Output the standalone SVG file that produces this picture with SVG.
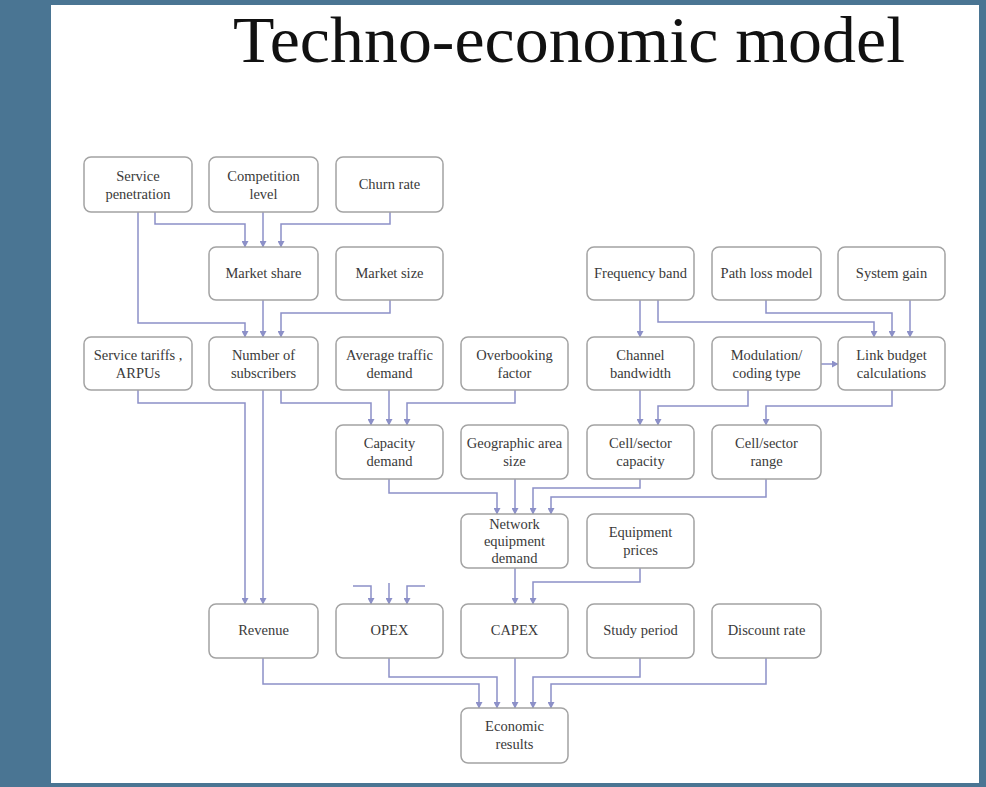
<svg xmlns="http://www.w3.org/2000/svg" width="986" height="787" viewBox="0 0 986 787">
<defs>
<style>
.bg{fill:#4a7593}
.panel{fill:#ffffff}
.title{font-family:"Liberation Serif","Times New Roman",serif;font-size:66px;fill:#111}
.box{fill:#ffffff;stroke:#a3a3a3;stroke-width:1.5}
.lbl{font-family:"Liberation Serif","Times New Roman",serif;font-size:14.5px;fill:#3a3a3a;text-anchor:middle}
.con path{fill:none;stroke:#8c90c8;stroke-width:1.5;marker-end:url(#ah)}
</style>
<marker id="ah" markerUnits="userSpaceOnUse" markerWidth="7" markerHeight="7" refX="6" refY="3.5" orient="auto">
<path d="M0,0 L6.5,3.5 L0,7 z" fill="#8c90c8"/>
</marker>
</defs>
<rect class="bg" x="0" y="0" width="986" height="787"/>
<rect class="panel" x="51" y="5" width="928" height="778"/>
<text class="title" x="233" y="62" textLength="672" lengthAdjust="spacingAndGlyphs">Techno-economic model</text>

<g id="connectors" class="con">
<path d="M155,212 V224 H245 V247"/>
<path d="M263,212 V247"/>
<path d="M390,212 V224 H281 V247"/>
<path d="M138,212 V323 H245 V337"/>
<path d="M263,300 V337"/>
<path d="M390,300 V313 H281 V337"/>
<path d="M281,390 V403 H371 V425"/>
<path d="M389,390 V425"/>
<path d="M515,390 V403 H407 V425"/>
<path d="M138,390 V403 H245 V604"/>
<path d="M263,390 V604"/>
<path d="M640,300 V337"/>
<path d="M658,300 V322 H874 V337"/>
<path d="M766,300 V313 H892 V337"/>
<path d="M910,300 V337"/>
<path d="M821,364 H838"/>
<path d="M640,390 V425"/>
<path d="M748,390 V406 H658 V425"/>
<path d="M892,390 V406 H766 V425"/>
<path d="M389,479 V493 H497 V514"/>
<path d="M515,479 V514"/>
<path d="M640,479 V488 H533 V514"/>
<path d="M766,479 V497 H551 V514"/>
<path d="M515,568 V604"/>
<path d="M640,568 V582 H533 V604"/>
<path d="M353,586 H371 V604"/>
<path d="M389,583 V604"/>
<path d="M425,586 H407 V604"/>
<path d="M263,658 V684 H479 V708"/>
<path d="M389,658 V677 H497 V708"/>
<path d="M515,658 V708"/>
<path d="M640,658 V677 H533 V708"/>
<path d="M766,658 V684 H551 V708"/>
</g>

<g id="service-penetration"><rect class="box" x="84" y="157" width="108" height="55" rx="7"/><text class="lbl" x="138" y="181">Service</text><text class="lbl" x="138" y="199">penetration</text></g>
<g id="competition-level"><rect class="box" x="209" y="157" width="109" height="55" rx="7"/><text class="lbl" x="263.5" y="181">Competition</text><text class="lbl" x="263.5" y="199">level</text></g>
<g id="churn-rate"><rect class="box" x="336" y="157" width="107" height="55" rx="7"/><text class="lbl" x="389.5" y="189">Churn rate</text></g>

<g id="market-share"><rect class="box" x="209" y="247" width="109" height="53" rx="7"/><text class="lbl" x="263.5" y="278">Market share</text></g>
<g id="market-size"><rect class="box" x="336" y="247" width="107" height="53" rx="7"/><text class="lbl" x="389.5" y="278">Market size</text></g>
<g id="frequency-band"><rect class="box" x="587" y="247" width="107" height="53" rx="7"/><text class="lbl" x="640.5" y="278">Frequency band</text></g>
<g id="path-loss-model"><rect class="box" x="712" y="247" width="109" height="53" rx="7"/><text class="lbl" x="766.5" y="278">Path loss model</text></g>
<g id="system-gain"><rect class="box" x="838" y="247" width="107" height="53" rx="7"/><text class="lbl" x="891.5" y="278">System gain</text></g>

<g id="service-tariffs"><rect class="box" x="84" y="337" width="108" height="53" rx="7"/><text class="lbl" x="138" y="360">Service tariffs ,</text><text class="lbl" x="138" y="378">ARPUs</text></g>
<g id="number-of-subscribers"><rect class="box" x="209" y="337" width="109" height="53" rx="7"/><text class="lbl" x="263.5" y="360">Number of</text><text class="lbl" x="263.5" y="378">subscribers</text></g>
<g id="average-traffic-demand"><rect class="box" x="336" y="337" width="107" height="53" rx="7"/><text class="lbl" x="389.5" y="360">Average traffic</text><text class="lbl" x="389.5" y="378">demand</text></g>
<g id="overbooking-factor"><rect class="box" x="461" y="337" width="107" height="53" rx="7"/><text class="lbl" x="514.5" y="360">Overbooking</text><text class="lbl" x="514.5" y="378">factor</text></g>
<g id="channel-bandwidth"><rect class="box" x="587" y="337" width="107" height="53" rx="7"/><text class="lbl" x="640.5" y="360">Channel</text><text class="lbl" x="640.5" y="378">bandwidth</text></g>
<g id="modulation-coding-type"><rect class="box" x="712" y="337" width="109" height="53" rx="7"/><text class="lbl" x="766.5" y="360">Modulation/</text><text class="lbl" x="766.5" y="378">coding type</text></g>
<g id="link-budget-calculations"><rect class="box" x="838" y="337" width="107" height="53" rx="7"/><text class="lbl" x="891.5" y="360">Link budget</text><text class="lbl" x="891.5" y="378">calculations</text></g>

<g id="capacity-demand"><rect class="box" x="336" y="425" width="107" height="54" rx="7"/><text class="lbl" x="389.5" y="448">Capacity</text><text class="lbl" x="389.5" y="466">demand</text></g>
<g id="geographic-area-size"><rect class="box" x="461" y="425" width="107" height="54" rx="7"/><text class="lbl" x="514.5" y="448">Geographic area</text><text class="lbl" x="514.5" y="466">size</text></g>
<g id="cell-sector-capacity"><rect class="box" x="587" y="425" width="107" height="54" rx="7"/><text class="lbl" x="640.5" y="448">Cell/sector</text><text class="lbl" x="640.5" y="466">capacity</text></g>
<g id="cell-sector-range"><rect class="box" x="712" y="425" width="109" height="54" rx="7"/><text class="lbl" x="766.5" y="448">Cell/sector</text><text class="lbl" x="766.5" y="466">range</text></g>

<g id="network-equipment-demand"><rect class="box" x="461" y="514" width="107" height="54" rx="7"/><text class="lbl" x="514.5" y="529">Network</text><text class="lbl" x="514.5" y="546">equipment</text><text class="lbl" x="514.5" y="563">demand</text></g>
<g id="equipment-prices"><rect class="box" x="587" y="514" width="107" height="54" rx="7"/><text class="lbl" x="640.5" y="537">Equipment</text><text class="lbl" x="640.5" y="555">prices</text></g>

<g id="revenue"><rect class="box" x="209" y="604" width="109" height="54" rx="7"/><text class="lbl" x="263.5" y="635">Revenue</text></g>
<g id="opex"><rect class="box" x="336" y="604" width="107" height="54" rx="7"/><text class="lbl" x="389.5" y="635">OPEX</text></g>
<g id="capex"><rect class="box" x="461" y="604" width="107" height="54" rx="7"/><text class="lbl" x="514.5" y="635">CAPEX</text></g>
<g id="study-period"><rect class="box" x="587" y="604" width="107" height="54" rx="7"/><text class="lbl" x="640.5" y="635">Study period</text></g>
<g id="discount-rate"><rect class="box" x="712" y="604" width="109" height="54" rx="7"/><text class="lbl" x="766.5" y="635">Discount rate</text></g>

<g id="economic-results"><rect class="box" x="461" y="708" width="107" height="55" rx="7"/><text class="lbl" x="514.5" y="731">Economic</text><text class="lbl" x="514.5" y="749">results</text></g>
</svg>
